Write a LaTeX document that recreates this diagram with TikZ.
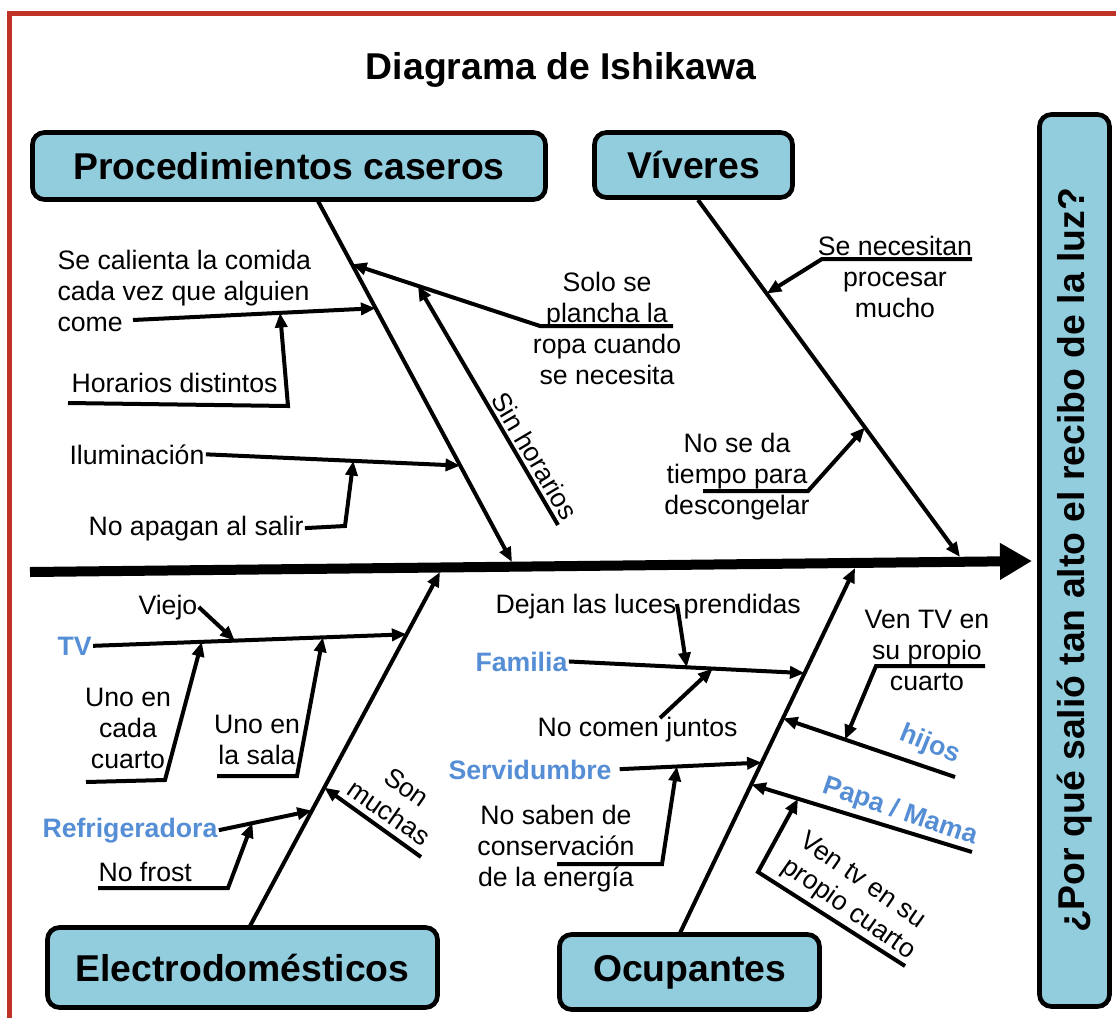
\documentclass[tikz,border=0pt]{standalone}
\usepackage{fontspec}
\setmainfont{Liberation Sans}
\usetikzlibrary{arrows.meta}
\definecolor{cajaazul}{RGB}{146,205,221}
\definecolor{letraazul}{RGB}{85,142,213}
\definecolor{marco}{RGB}{192,50,40}
\tikzset{every picture/.style={line width=0.75pt}}
\tikzset{
  caja/.style={draw, line width=3.5pt, rounded corners=9pt, fill=cajaazul, inner sep=0pt, font=\fontsize{28}{33}\selectfont\bfseries},
  texto/.style={inner sep=0.75pt, font=\fontsize{20}{23.25}\selectfont},
  rotulo/.style={inner sep=0.75pt, text=letraazul, font=\fontsize{20}{23.25}\selectfont\bfseries},
  hueso/.style={line width=3pt, -{Triangle[length=11pt,width=9pt]}},
}

\begin{document}
\begin{tikzpicture}[x=0.75pt,y=0.75pt,yscale=-1,xscale=1]
\useasboundingbox (0,0) rectangle (1116,1017);

%Shape: Frame
\draw [marco, line width=3.5pt] (9.5,13.5) rectangle (1140,1045);

% Text Node
\node (titulo) at (561,70) [font=\fontsize{28}{33}\selectfont\bfseries] {Diagrama de Ishikawa};

%Shape: Rounded Rect
\node (pc) at (289,166) [caja, minimum width=384.75pt, minimum height=50.25pt] {Procedimientos caseros};
%Shape: Rounded Rect
\node (viv) at (693.5,165) [caja, minimum width=148.5pt, minimum height=48.75pt] {Víveres};
%Shape: Rounded Rect
\node (preg) at (1074.5,560.5) [caja, rotate=90, minimum width=669pt, minimum height=52.5pt] {¿Por qué salió tan alto el recibo de la luz?};
%Shape: Rounded Rect
\node (elec) at (242.5,967.5) [caja, minimum width=292.5pt, minimum height=60pt] {Electrodomésticos};
%Shape: Rounded Rect
\node (ocu) at (689.5,972) [caja, minimum width=195pt, minimum height=56.25pt] {Ocupantes};

%Straight Lines: spine
\coordinate (cola) at (30,572);
\coordinate (cabeza) at (1032,561);
\draw [line width=7.5pt, -{Triangle[length=24pt,width=26pt]}] (cola) -- (cabeza);

%Straight Lines: bones
\coordinate (pcA) at (318,201);
\coordinate (pcB) at (512,562);
\draw [hueso] (pcA) -- (pcB) coordinate[pos=0.175] (pc1) coordinate[pos=0.297] (pc2) coordinate[pos=0.733] (pc3);
\coordinate (vvA) at (698,200);
\coordinate (vvB) at (960,557);
\draw [hueso] (vvA) -- (vvB) coordinate[pos=0.262] (vv1) coordinate[pos=0.637] (vv2);
\coordinate (elA) at (250,926);
\coordinate (elB) at (440,572);
\draw [hueso] (elA) -- (elB) coordinate[pos=0.326] (el2) coordinate[pos=0.391] (el3) coordinate[pos=0.824] (el1);
\coordinate (ocA) at (680,933);
\coordinate (ocB) at (855,568);
\draw [hueso] (ocA) -- (ocB) coordinate[pos=0.407] (oc4) coordinate[pos=0.467] (oc2) coordinate[pos=0.588] (oc3) coordinate[pos=0.712] (oc1);

% Text Node
\node (calienta) at (56,291) [texto, anchor=west, align=left] {Se calienta la comida\\cada vez que alguien\\come};
\coordinate (cal0) at (133,320);
\draw [hueso] (cal0) -- (pc2) coordinate[pos=0.606] (calM);
% Text Node
\node (horarios) at (70,392) [texto, anchor=base west] {Horarios distintos};
\coordinate (hor0) at (68,403);
\coordinate (hor1) at (288,406);
\draw [hueso] (hor0) -- (hor1) -- (calM);

% Text Node
\node (ilum) at (68,464) [texto, anchor=base west] {Iluminación};
\draw [hueso] (ilum.east) -- (pc3) coordinate[pos=0.58] (ilumM);
% Text Node
\node (apagan) at (87,535) [texto, anchor=base west] {No apagan al salir};
\coordinate (apa1) at (345,526);
\draw [hueso] (apagan.east) -- (apa1) -- (ilumM);

% Text Node
\node (plancha) at (607,328) [texto, align=center] {Solo se\\plancha la\\ropa cuando\\se necesita};
\coordinate (pla0) at (673,326);
\coordinate (pla1) at (540,326);
\draw [hueso] (pla0) -- (pla1) -- (pc1);
\path (pla1) -- (pc1) coordinate[pos=0.649] (plaM);
\coordinate (sh0) at (558,525);
\draw [hueso] (sh0) -- (plaM);
% Text Node
\node (sinhor) at (535,456) [texto, rotate=-59.4] {Sin horarios};

% Text Node
\node (necesitan) at (895,277) [texto, align=center] {Se necesitan\\procesar\\mucho};
\coordinate (nec0) at (972,259);
\coordinate (nec1) at (822,259);
\draw [hueso] (nec0) -- (nec1) -- (vv1);
% Text Node
\node (descong) at (737,477) [texto, align=center] {No se da\\tiempo para\\descongelar};
\coordinate (des0) at (703,491);
\coordinate (des1) at (808,491);
\draw [hueso] (des0) -- (des1) -- (vv2);

% Text Node
\node (tv) at (56,655) [rotulo, anchor=base west] {TV};
\draw [hueso] (tv.east) -- (el1) coordinate[pos=0.452] (tvV) coordinate[pos=0.347] (tvC) coordinate[pos=0.733] (tvS);
% Text Node
\node (viejo) at (137,614) [texto, anchor=base west] {Viejo};
\draw [hueso] (viejo.east) -- (tvV);
% Text Node
\node (cada) at (128,728) [texto, align=center] {Uno en\\cada\\cuarto};
\coordinate (cad0) at (86,782);
\coordinate (cad1) at (165,780);
\draw [hueso] (cad0) -- (cad1) -- (tvC);
% Text Node
\node (sala) at (257,740) [texto, align=center] {Uno en\\la sala};
\coordinate (sal0) at (217,776);
\coordinate (sal1) at (297,776);
\draw [hueso] (sal0) -- (sal1) -- (tvS);

% Text Node
\node (refri) at (41,837) [rotulo, anchor=base west] {Refrigeradora};
\draw [hueso] (refri.east) -- (el2) coordinate[pos=0.36] (refM);
% Text Node
\node (frost) at (97,881) [texto, anchor=base west] {No frost};
\coordinate (fro0) at (98,888);
\coordinate (fro1) at (228,888);
\draw [hueso] (fro0) -- (fro1) -- (refM);
\coordinate (mu0) at (421,857);
\draw [hueso] (mu0) -- (el3);
% Text Node
\node (muchas) at (398,800) [texto, rotate=-35, align=center] {Son\\muchas};

% Text Node
\node (familia) at (474,671) [rotulo, anchor=base west] {Familia};
\draw [hueso] (familia.east) -- (oc1) coordinate[pos=0.5] (famD) coordinate[pos=0.61] (famC);
% Text Node
\node (dejan) at (494,613) [texto, anchor=base west] {Dejan las luces prendidas};
\coordinate (dej0) at (677,604);
\draw [hueso] (dej0) -- (famD);
% Text Node
\node (comen) at (536,736) [texto, anchor=base west] {No comen juntos};
\coordinate (com0) at (660,718);
\draw [hueso] (com0) -- (famC);

% Text Node
\node (servi) at (447,779) [rotulo, anchor=base west] {Servidumbre};
\draw [hueso, shorten <=5pt] (servi.east) -- (oc2) coordinate[pos=0.43] (serM);
% Text Node
\node (saben) at (556,849) [texto, align=center] {No saben de\\conservación\\de la energía};
\coordinate (sab0) at (557,864);
\coordinate (sab1) at (662,864);
\draw [hueso] (sab0) -- (sab1) -- (serM);

\coordinate (hij0) at (955,777);
\draw [hueso] (hij0) -- (oc3) coordinate[pos=0.639] (hijM);
% Text Node
\node (hijos) at (930,745) [rotulo, rotate=-22] {hijos};
% Text Node
\node (ventv) at (927,650) [texto, align=center] {Ven TV en\\su propio\\cuarto};
\coordinate (vtv0) at (985,666);
\coordinate (vtv1) at (876,666);
\draw [hueso] (vtv0) -- (vtv1) -- (hijM);

\coordinate (pap0) at (972,852);
\draw [hueso] (pap0) -- (oc4) coordinate[pos=0.788] (papM);
% Text Node
\node (papa) at (900,812) [rotulo, rotate=-19] {Papa / Mama};
% Text Node
\node (ventv2) at (857,897) [texto, rotate=-35, align=left] {Ven tv en su\\propio cuarto};
\coordinate (vt0) at (905,966);
\coordinate (vt1) at (758,872);
\draw [hueso] (vt0) -- (vt1) -- (papM);

\end{tikzpicture}
\end{document}
